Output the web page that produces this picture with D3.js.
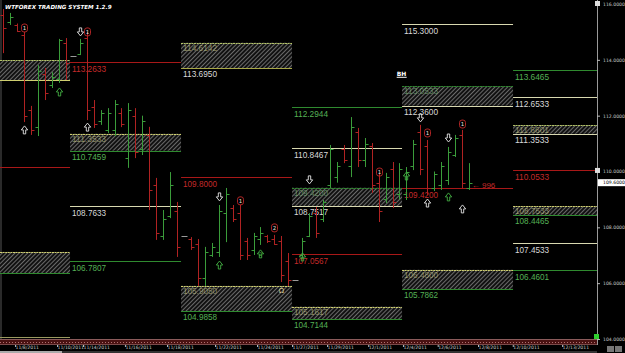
<!DOCTYPE html>
<html><head><meta charset="utf-8">
<script src="https://cdn.jsdelivr.net/npm/d3@7/dist/d3.min.js"></script>
<style>body{margin:0;background:#000;overflow:hidden}svg{display:block}</style>
</head><body>
<svg id="c" width="625" height="353"></svg>
<script>
// ---------- DATA ----------
const barHigh  = [115.82,115.68,115.30,115.00,112.35,113.81,113.71,113.56,114.75,114.78,114.16,114.75,115.00,112.56,112.20,112.27,112.56,112.27,112.45,112.27,112.00,111.60,109.77,108.62,109.98,108.91,107.70,107.65,107.58,107.30,107.44,108.80,109.41,108.80,108.80,107.62,107.80,108.01,107.73,107.73,107.69,107.08,106.12,107.62,108.51,108.73,108.98,110.95,110.34,110.95,111.95,111.56,111.20,111.02,109.95,109.95,110.34,110.30,110.16,111.13,111.67,111.13,110.00,110.34,110.88,111.31,111.49,110.30];
const barLow   = [114.24,115.25,115.00,111.77,111.31,111.27,112.56,112.99,113.17,113.28,114.12,114.17,111.84,111.56,111.67,111.38,111.27,111.59,110.13,110.48,110.59,108.62,107.55,107.55,108.33,106.94,107.68,107.19,105.90,105.90,106.94,106.94,107.47,108.19,106.83,106.83,107.01,107.37,107.44,107.37,106.04,105.90,106.10,106.90,107.65,107.62,108.19,109.41,109.60,110.30,109.80,110.16,110.16,109.23,108.19,108.87,108.69,109.00,108.98,110.05,109.87,109.16,109.30,109.34,109.52,110.52,109.41,109.34];
const barOpen  = [115.60,115.35,115.25,114.90,112.20,111.60,113.50,113.10,113.30,114.60,114.14,114.20,114.80,112.30,111.80,111.50,111.50,112.10,110.50,112.00,110.80,111.30,109.50,107.70,108.40,108.60,107.69,107.60,107.40,106.20,107.00,107.10,108.50,108.70,108.50,107.50,107.20,107.60,107.70,107.60,107.50,106.80,106.11,107.00,107.70,108.50,108.30,109.50,109.80,110.80,110.20,111.40,110.40,110.90,109.60,109.00,110.10,109.20,109.20,110.20,111.40,110.90,109.40,109.50,109.70,110.60,111.30,109.40];
const barClose = [115.14,115.55,115.05,112.00,111.50,113.60,112.80,113.40,114.70,113.90,114.14,114.60,112.20,111.70,112.10,112.10,112.40,111.70,112.20,110.70,111.80,109.34,107.80,108.30,109.50,107.30,107.69,107.30,106.20,107.10,107.30,108.60,109.20,108.30,107.00,107.00,107.70,107.80,107.50,107.40,106.30,106.10,106.11,107.50,108.40,107.80,108.90,110.80,110.20,110.40,111.60,110.40,111.00,109.50,108.60,109.80,108.90,110.10,110.00,111.00,110.10,109.40,109.90,110.20,110.70,111.20,109.60,109.60];

// period blocks of the level system (in bar-index units)
const blockEdges = [-0.48, 9.6, 25.57, 41.54, 57.37, 73.34, 85.42];

// single level lines
const levelBlock = [0,1,1,1,2,3,3,3,4,4,5,5,5,5,5];
const levelValue = [110.16,113.92,108.7633,106.7807,109.8000,112.2944,110.8467,107.0567,115.3000,109.4200,113.6465,112.6533,110.0533,107.4533,106.4601];
const levelLabel = ["","113.2633","108.7633","106.7807","109.8000","112.2944","110.8467","107.0567","115.3000","109.4200","113.6465","112.6533","110.0533","107.4533","106.4601"];
const levelKind  = ["red","red","cream","green","red","green","cream","red","cream","red","green","cream","red","cream","green"];

// hatched zones
const zoneBlock   = [0,0,1,2,2,3,3,4,4,5,5];
const zoneTop     = [113.99,107.12,111.3533,114.6142,105.9050,109.4200,105.1617,113.0533,106.4800,111.6601,108.7533];
const zoneBottom  = [113.26,106.36,110.7459,113.6950,104.9858,108.7517,104.7144,112.3600,105.7862,111.3533,108.4465];
const zoneTopLabel= ["","","111.3533","114.6142","105.9050","109.4200","105.1617","113.0533","106.4800","111.6601","108.7533"];
const zoneBotLabel= ["","","110.7459","113.6950","104.9858","108.7517","104.7144","112.3600","105.7862","111.3533","108.4465"];
const zoneTopKind = ["ygreen","yellow","yellow","ygreen","yellow","green","yellow","green","yellow","ygreen","yellow"];
const zoneBotKind = ["yellow","green","green","olive","green","cream","green","cream","green","cream","green"];

// signal markers
const markerPos   = [11,31,44,60,64, 3,12,61,66, 8,31,37,43,64,58, 3,12,34,39,54,61,66, 40];
const markerPrice = [115.00,109.09,109.70,111.92,111.20, 111.49,111.59,108.87,108.66, 112.85,106.65,107.05,106.94,109.09,109.84, 115.14,115.00,108.95,107.98,109.98,111.38,111.70, 105.76];
const markerType  = ["wdown","wdown","wdown","wdown","wdown","wup","wup","wup","wup","gup","gup","gup","gup","gup","gup","rdown","rdown","rdown","rdown","rdown","rdown","rdown","omega"];
const markerText  = ["","","","","","","","","","","","2","1","","","1","1","1","2","1","1","1",""];

// axis
const yTicks = [104,106,108,110,112,114,116];
const dateLabels = ["11/8/2011","11/10/2011","11/14/2011","11/16/2011","11/18/2011","11/22/2011","11/24/2011","11/27/2011","11/29/2011","12/1/2011","12/4/2011","12/6/2011","12/8/2011","12/10/2011","12/13/2011"];
const datePos    = [1.68,7.73,11.47,17.5,23.55,30.46,36.5,41.54,46.58,52.5,57.5,62.5,68.3,73.3,80.4];
const lastPrice = 109.6;
const title = "WTFOREX TRADING SYSTEM 1.2.9";

// ---------- DRAW ----------
const svg = d3.select("#c");
const x = d3.scaleLinear().domain([-0.475, 85.42]).range([0, 597]);
const y = d3.scaleLinear().domain([104, 116]).range([339, 4]);
const px = v => Math.round(v) + 0.5;

const col = {red:"#a81818", green:"#2f8a2f", cream:"#d8d8b0", yellow:"#cfcf70", ygreen:"#b4c468", olive:"#a8a848"};
const lab = {red:"#c42a2a", green:"#55b055", cream:"#d8d8d8"};

svg.append("rect").attr("width",625).attr("height",353).attr("fill","#000");

const defs = svg.append("defs");
const pat = defs.append("pattern").attr("id","hatch").attr("patternUnits","userSpaceOnUse")
  .attr("width",3).attr("height",3).attr("patternTransform","rotate(45)");
pat.append("rect").attr("width",3).attr("height",3).attr("fill","#111");
pat.append("line").attr("x1",0).attr("y1",0).attr("x2",0).attr("y2",3).attr("stroke","#9a9a9a").attr("stroke-width",1.3);

// left border
svg.append("line").attr("x1",1).attr("x2",1).attr("y1",0).attr("y2",340).attr("stroke","#555");

// zones
const gz = svg.append("g");
zoneBlock.forEach((b,i)=>{
  const x0 = Math.max(0,x(blockEdges[b])), x1 = x(blockEdges[b+1]);
  const yt = y(zoneTop[i]), yb = y(zoneBottom[i]);
  gz.append("rect").attr("x",x0).attr("y",yt).attr("width",x1-x0).attr("height",yb-yt).attr("fill","url(#hatch)");
  if (zoneTopLabel[i]) gz.append("text").attr("x",x0+2).attr("y",yt+8).text(zoneTopLabel[i])
      .attr("font-family","Liberation Sans, sans-serif").attr("font-size",9).attr("textLength",34)
      .attr("lengthAdjust","spacingAndGlyphs").attr("fill", zoneTopKind[i]==="green"?"#8c8":"#d8d890").attr("opacity",0.55);
  gz.append("line").attr("x1",x0).attr("x2",x1).attr("y1",px(yt)).attr("y2",px(yt)).attr("stroke",col[zoneTopKind[i]]).attr("stroke-width",1.2).attr("stroke-dasharray","2,0.6");
  gz.append("line").attr("x1",x0).attr("x2",x1).attr("y1",px(yb)).attr("y2",px(yb)).attr("stroke",col[zoneBotKind[i]]).attr("stroke-width",1.2);
  if (zoneBotLabel[i]) gz.append("text").attr("x",x0+2).attr("y",yb+9).text(zoneBotLabel[i])
      .attr("font-family","Liberation Sans, sans-serif").attr("font-size",9).attr("textLength",34)
      .attr("lengthAdjust","spacingAndGlyphs").attr("fill", zoneBotKind[i]==="green"?lab.green:lab.cream);
});

// level lines
const gl = svg.append("g");
levelBlock.forEach((b,i)=>{
  const x0 = Math.max(0,x(blockEdges[b])), x1 = x(blockEdges[b+1]);
  const yy = px(y(levelValue[i]));
  gl.append("line").attr("x1",x0).attr("x2",x1).attr("y1",yy).attr("y2",yy)
    .attr("stroke",col[levelKind[i]]).attr("stroke-width",1.2);
  if (levelLabel[i]) gl.append("text").attr("x",x0+2).attr("y",yy+9).text(levelLabel[i])
    .attr("font-family","Liberation Sans, sans-serif").attr("font-size",9).attr("textLength",34)
    .attr("lengthAdjust","spacingAndGlyphs").attr("fill",lab[levelKind[i]]);
});

// bars (OHLC)
const gb = svg.append("g");
barHigh.forEach((h,i)=>{
  const o=barOpen[i], c=barClose[i];
  const color = c>o ? "#3a9c3a" : (c<o ? "#b02222" : "#9a9a9a");
  const xx = px(x(i));
  if (h-barLow[i] < 0.06) {
    gb.append("line").attr("x1",xx-3).attr("x2",xx+3).attr("y1",px(y(o))).attr("y2",px(y(o))).attr("stroke",color);
    return;
  }
  gb.append("line").attr("x1",xx).attr("x2",xx).attr("y1",y(h)).attr("y2",y(barLow[i])).attr("stroke",color);
  gb.append("line").attr("x1",xx-3).attr("x2",xx).attr("y1",px(y(o))).attr("y2",px(y(o))).attr("stroke",color);
  gb.append("line").attr("x1",xx).attr("x2",xx+3).attr("y1",px(y(c))).attr("y2",px(y(c))).attr("stroke",color);
});

// markers
const gm = svg.append("g");
const downPath = "M-1.2,-4 L1.2,-4 L1.2,0 L3.2,0 L0,4 L-3.2,0 L-1.2,0 Z";
const upPath   = "M-1.2,4 L1.2,4 L1.2,0 L3.2,0 L0,-4 L-3.2,0 L-1.2,0 Z";
markerPos.forEach((p,i)=>{
  const cx = px(x(p)), cy = y(markerPrice[i]), t = markerType[i];
  if (t==="omega") {
    gm.append("text").attr("x",cx).attr("y",cy+3).attr("text-anchor","middle").text("Ω")
      .attr("font-size",7).attr("fill","#d8c890").attr("font-family","DejaVu Sans");
    return;
  }
  const stroke = t[0]==="w" ? "#e8e8e8" : (t[0]==="g" ? "#44b044" : "#c02828");
  const g = gm.append("g").attr("transform",`translate(${cx},${cy})`);
  if (t[0]==="r") {
    g.append("rect").attr("x",-3).attr("y",-4).attr("width",6).attr("height",8).attr("rx",2.5).attr("fill","none").attr("stroke",stroke).attr("stroke-width",0.9);
  } else {
    g.append("path").attr("d", t.endsWith("down")?downPath:upPath).attr("fill","none").attr("stroke",stroke).attr("stroke-width",0.9);
  }
  if (markerText[i]) g.append("text").attr("x",0).attr("y",2.3).attr("text-anchor","middle").text(markerText[i])
      .attr("font-size",5.5).attr("font-family","DejaVu Sans").attr("fill",t[0]==="r"?"#e0e0e0":stroke);
});

// BH and countdown label
svg.append("text").attr("x",x(56.6)).attr("y",y(113.5)+2).text("BH").attr("font-size",6).attr("font-weight","bold")
  .attr("font-family","DejaVu Sans").attr("fill","#fff");
svg.append("line").attr("x1",x(56.6)).attr("x2",x(56.6)+10).attr("y1",y(113.5)+3.5).attr("y2",y(113.5)+3.5).attr("stroke","#fff");
svg.append("text").attr("x",x(67.4)).attr("y",y(109.52)+3).text("\u2190 996").attr("font-size",8)
  .attr("font-family","Liberation Sans, sans-serif").attr("fill","#c42a2a");

// title
svg.append("text").attr("x",5).attr("y",9).text(title).attr("font-size",5.6).attr("font-weight","bold")
  .attr("font-style","italic").attr("font-family","DejaVu Sans, sans-serif").attr("fill","#fff");

// bottom strip
svg.append("rect").attr("x",0).attr("y",339).attr("width",597).attr("height",6).attr("fill","#4a1212");
svg.append("line").attr("x1",0).attr("x2",597).attr("y1",339.5).attr("y2",339.5).attr("stroke","#8a5a5a");
svg.append("line").attr("x1",0).attr("x2",597).attr("y1",342.5).attr("y2",342.5).attr("stroke","#b07070").attr("stroke-dasharray","1,2");
svg.append("line").attr("x1",0).attr("x2",597).attr("y1",344.5).attr("y2",344.5).attr("stroke","#7a4a4a");
svg.append("line").attr("x1",0).attr("x2",70).attr("y1",337.5).attr("y2",337.5).attr("stroke","#9a9a60");

// bottom axis
const xa = svg.append("g").attr("transform","translate(0,345)")
  .call(d3.axisBottom(x).tickValues(datePos).tickFormat((d,i)=>dateLabels[i]).tickSize(2).tickSizeOuter(0));
xa.select(".domain").remove();
xa.selectAll("line").attr("stroke","#bbb");
xa.selectAll("text").attr("fill","#c8c8c8").attr("font-size",4.6).attr("text-anchor","start").attr("dy","0.4em").attr("y",2)
  .attr("font-family","DejaVu Sans, sans-serif");
svg.append("rect").attr("x",0).attr("y",351).attr("width",62).attr("height",2).attr("fill","#aaa");
svg.append("rect").attr("x",62).attr("y",351).attr("width",535).attr("height",2).attr("fill","#333");

// right axis
const ya = svg.append("g").attr("transform","translate(597,0)")
  .call(d3.axisRight(y).tickValues(yTicks).tickFormat(d3.format(".4f")).tickSize(3).tickSizeOuter(0));
ya.select(".domain").attr("stroke","#9a9a9a").attr("d","M0.5,0V345");
ya.selectAll("line").attr("stroke","#bbb");
ya.selectAll("text").attr("fill","#c8c8c8").attr("font-size",4.6).attr("x",6).attr("font-family","DejaVu Sans, sans-serif");

// last price box
svg.append("rect").attr("x",598).attr("y",y(lastPrice)-3.5).attr("width",27).attr("height",7).attr("fill","#fff");
svg.append("text").attr("x",603).attr("y",y(lastPrice)+1.8).text(d3.format(".4f")(lastPrice)).attr("font-size",4.6)
  .attr("font-family","DejaVu Sans, sans-serif").attr("fill","#000");

// small boxes on axis
[116,110.02].forEach(v=>{
  svg.append("rect").attr("x",595).attr("y",y(v)-3).attr("width",5).attr("height",5).attr("fill","#ddd");
});
svg.append("rect").attr("x",594).attr("y",334).attr("width",5).attr("height",5).attr("fill","#2fd02f");
svg.append("rect").attr("x",607).attr("y",346).attr("width",7).attr("height",6).attr("fill","#777");
svg.append("rect").attr("x",615).attr("y",346).attr("width",7).attr("height",6).attr("fill","#777");
</script>
</body></html>
